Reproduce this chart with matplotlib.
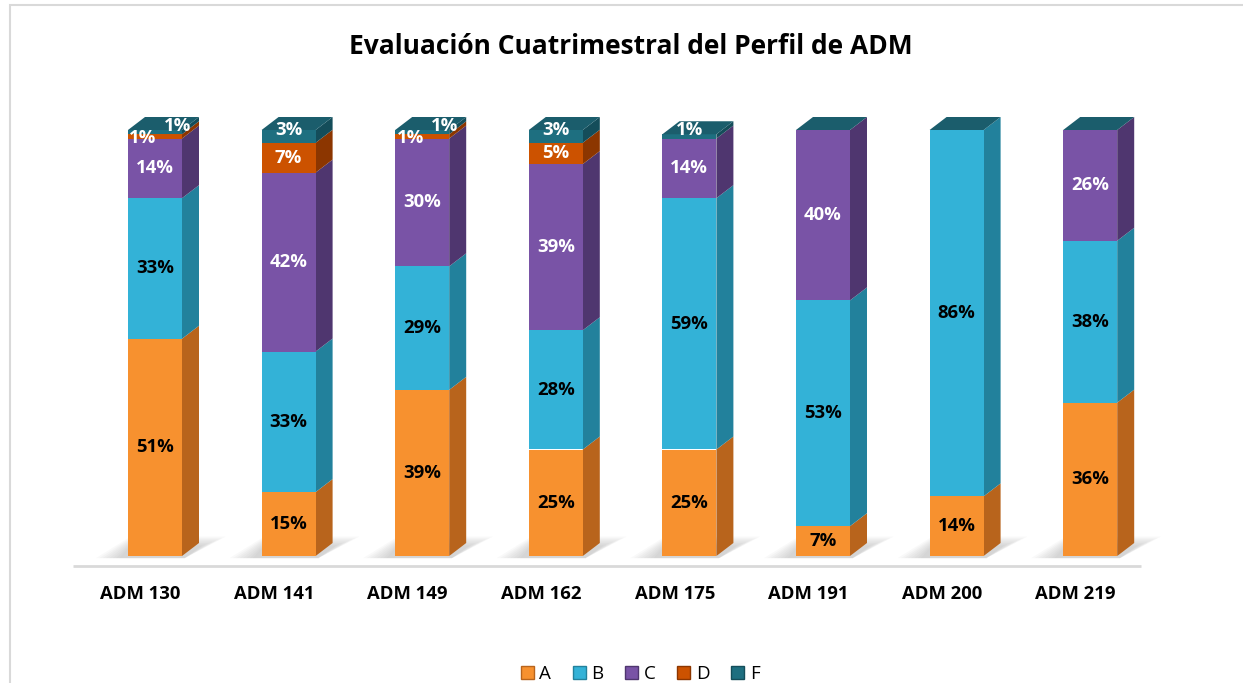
import matplotlib
matplotlib.use("Agg")
import matplotlib.pyplot as plt
from matplotlib.patches import Polygon, Patch, Rectangle
import numpy as np

# datos (porcentaje por calificación)
categorias = ["ADM 130", "ADM 141", "ADM 149", "ADM 162",
              "ADM 175", "ADM 191", "ADM 200", "ADM 219"]
series = ["A", "B", "C", "D", "F"]
val_a = [51, 15, 39, 25, 25, 7, 14, 36]
val_b = [33, 33, 29, 28, 59, 53, 86, 38]
val_c = [14, 42, 30, 39, 14, 40, 0, 26]
val_d = [1, 7, 1, 5, 0, 0, 0, 0]
val_f = [1, 3, 1, 3, 1, 0, 0, 0]
titulo = "Evaluación Cuatrimestral del Perfil de ADM"

# colores: frente, costado, color del texto
frente = {"A": "#F7912F", "B": "#33B2D7", "C": "#7953A6", "D": "#CC5200", "F": "#1E6F80"}
costado = {"A": "#B8641C", "B": "#22819C", "C": "#4F366F", "D": "#8C3600", "F": "#144D5A"}
texto = {"A": "black", "B": "black", "C": "white", "D": "white", "F": "white"}
tapa = "#1B5D6C"

plt.rcParams["font.family"] = ["Open Sans", "DejaVu Sans"]

W, H = 1243, 683
PX0, PASO, Y0, K = 155, 133.6, 556, 4.26   # píxel de la barra 0, paso, base, px por %
ancho = 54 / PASO
dx, dy = 17 / PASO, 13 / K

fig = plt.figure(figsize=(W / 100, H / 100), dpi=100)
ax = fig.add_axes([0, 0, 1, 1])
ax.set_xlim(-PX0 / PASO, (W - PX0) / PASO)
ax.set_ylim((Y0 - H) / K, Y0 / K)
ax.axis("off")

# borde del área del gráfico
fig.patches.append(Rectangle((10 / W, -0.1), 1.2, 1.1 - 5 / H, transform=fig.transFigure,
                             fill=False, ec="#D9D9D9", lw=1.5))

valores = np.array([val_a, val_b, val_c, val_d, val_f], dtype=float)
x = np.arange(len(categorias))
izq = x - ancho / 2

# sombras en el piso
for xi in izq:
    for k in range(8):
        e = 0.025 * k
        ax.add_patch(Polygon([(xi - 0.24 + e, -0.5), (xi + ancho + 0.02, -0.5),
                              (xi + ancho + dx + 0.2 - e, dy + 1.5 - 0.3 * k),
                              (xi + 0.02, dy + 1.5 - 0.3 * k)],
                             closed=True, fc="#7F7F7F", ec="none", alpha=0.045, zorder=1))

# línea del eje
ax.plot([(73 - PX0) / PASO, (1141 - PX0) / PASO], [-10 / K, -10 / K],
        color="#D9D9D9", lw=2, solid_capstyle="butt", zorder=1)

base = np.zeros(len(categorias))
for s, fila in zip(series, valores):
    ax.bar(x, fila, ancho, bottom=base, color=frente[s], lw=0, zorder=3)
    for i, v in enumerate(fila):
        if v <= 0:
            continue
        b0, b1 = base[i], base[i] + v
        xr = izq[i] + ancho
        ax.add_patch(Polygon([(xr, b0), (xr + dx, b0 + dy), (xr + dx, b1 + dy), (xr, b1)],
                             closed=True, fc=costado[s], ec="none", zorder=2))
    base += fila

# tapa superior (color de la última serie)
for i in range(len(categorias)):
    t = base[i]
    ax.add_patch(Polygon([(izq[i], t), (izq[i] + dx, t + dy), (izq[i] + ancho + dx, t + dy),
                          (izq[i] + ancho, t)], closed=True, fc=tapa, ec="none", zorder=4))

# etiquetas de datos
abajo = np.zeros(len(categorias))
for j, (s, fila) in enumerate(zip(series, valores)):
    for i, v in enumerate(fila):
        if v <= 0:
            continue
        xm, ym = x[i], abajo[i] + v / 2
        chicos = valores[3, i] <= 1 and valores[4, i] <= 1 and valores[3, i] > 0
        if s == "D" and chicos:
            xm, ym = xm - 0.09, ym - 0.4
        elif s == "F":
            ym += 1.5
            if chicos:
                xm += 0.17
        ax.text(xm, ym, f"{v:.0f}%", ha="center", va="center", color=texto[s],
                fontsize=13.3, fontweight="bold", zorder=6)
    abajo += fila

# categorías
for i, c in enumerate(categorias):
    ax.text(x[i] - 0.11, (Y0 - 594) / K, c, ha="center", va="center",
            fontsize=13.3, fontweight="bold", color="black")

fig.text(631 / W, 1 - 47 / H, titulo, ha="center", va="center",
         fontsize=19, fontweight="bold")

manejos = [Patch(fc=frente[s], ec=costado[s], lw=1) for s in series]
fig.legend(manejos, series, loc="center", bbox_to_anchor=(0.515, 1 - 674 / H),
           ncol=5, frameon=False, fontsize=13.5, handlelength=0.7, handleheight=0.7,
           handletextpad=0.3, columnspacing=1.15)

fig.savefig("out.png", dpi=100)
